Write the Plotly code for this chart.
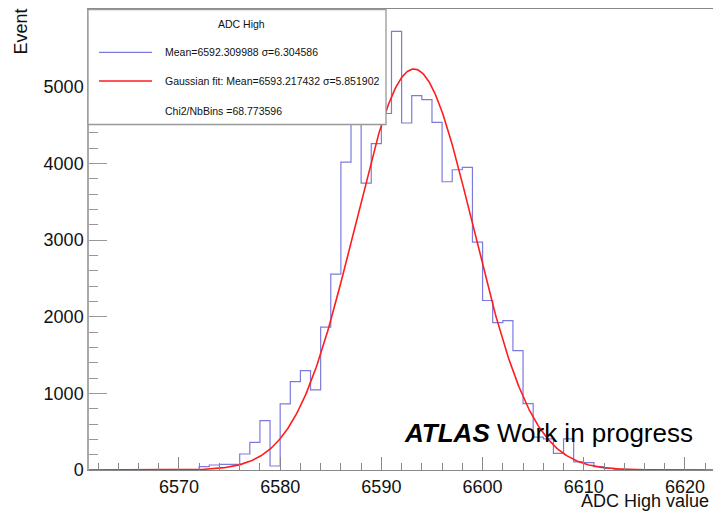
import numpy as np
import plotly.graph_objects as go

# ---- data ----
bin_low_edges = list(range(6561, 6623))  # 1-unit wide bins
counts = [0, 0, 0, 0, 0, 0, 0, 0, 0, 0, 0,          # 6561-6571
          43, 65, 74, 74, 209, 361, 644, 52,         # 6572-6579
          862, 1153, 1296, 1044, 1863, 2555, 4017, 4700, 3743, 4256,  # 6580-6589
          4650, 5720, 4526, 4882, 4830, 4534, 3760, 3916, 3947, 2972,  # 6590-6599
          2211, 1923, 1949, 1558, 865, 430, 405, 218, 405, 105,        # 6600-6609
          96, 43, 22, 9, 0, 0, 0, 0, 0, 0, 0, 0]                       # 6610-6621
fit_mean = 6593.217432
fit_sigma = 5.851902
fit_amplitude = 5230

x_ticks = [6570, 6580, 6590, 6600, 6610, 6620]
y_ticks = [0, 1000, 2000, 3000, 4000, 5000]

legend_title = "ADC High"
legend_hist = "Mean=6592.309988 σ=6.304586"
legend_fit = "Gaussian fit: Mean=6593.217432 σ=5.851902"
legend_chi2 = "Chi2/NbBins =68.773596"

# ---- geometry helpers (pixels -> paper) ----
W, H = 713, 512
ML, MR, MT, MB = 89, 0, 9, 42
PW, PH = W - ML - MR, H - MT - MB


def px(x):
    return (x - ML) / PW


def py(y):
    return (H - MB - y) / PH


FONT = "Liberation Sans, Arial, Helvetica, sans-serif"

# histogram as step line
step_x = bin_low_edges + [bin_low_edges[-1] + 1]
step_y = counts + [counts[-1]]

x_range = [6561.11, 6622.77]
xf = np.linspace(x_range[0], x_range[1], 600)
gauss = fit_amplitude * np.exp(-0.5 * ((xf - fit_mean) / fit_sigma) ** 2)

fig = go.Figure()
fig.add_trace(go.Scatter(
    x=step_x, y=step_y, mode="lines",
    line=dict(shape="hv", color="rgba(90,90,215,0.8)", width=1.2),
    showlegend=False, hoverinfo="skip"))
fig.add_trace(go.Scatter(
    x=xf, y=gauss, mode="lines",
    line=dict(color="#ff1c1c", width=1.6),
    showlegend=False, hoverinfo="skip"))

fig.update_layout(
    width=W, height=H,
    margin=dict(l=ML, r=MR, t=MT, b=MB, pad=0),
    paper_bgcolor="white", plot_bgcolor="white",
    font=dict(family=FONT, color="#111"),
    showlegend=False,
    xaxis=dict(
        range=x_range, tickvals=x_ticks, ticktext=[str(v) for v in x_ticks],
        showgrid=False, zeroline=False,
        showline=True, linecolor="#888", linewidth=1.3, mirror=True,
        ticks="inside", ticklen=13, tickcolor="#888", tickwidth=1,
        tickfont=dict(size=18, family=FONT, color="#111"),
        minor=dict(dtick=2, tick0=6570, ticks="inside", ticklen=7,
                   tickcolor="#888", tickwidth=1, showgrid=False),
    ),
    yaxis=dict(
        range=[0, 6013], tickvals=y_ticks, ticktext=[str(v) for v in y_ticks],
        showgrid=False, zeroline=False,
        showline=True, linecolor="#aaa", linewidth=1.5,
        ticks="inside", ticklen=18, tickcolor="#999", tickwidth=1,
        tickfont=dict(size=18, family=FONT, color="#111"),
        minor=dict(dtick=200, tick0=0, ticks="inside", ticklen=9,
                   tickcolor="#999", tickwidth=1, showgrid=False),
    ),
)

# legend box (ROOT style)
fig.add_shape(type="rect", xref="paper", yref="paper", layer="above",
              x0=px(88), x1=px(386), y0=py(124.5), y1=py(9.5),
              fillcolor="white", line=dict(color="#999", width=1.3))
fig.add_shape(type="line", xref="paper", yref="paper", layer="above",
              x0=px(99), x1=px(152), y0=py(52.3), y1=py(52.3),
              line=dict(color="rgba(90,90,215,0.8)", width=1.2))
fig.add_shape(type="line", xref="paper", yref="paper", layer="above",
              x0=px(99), x1=px(152), y0=py(81), y1=py(81),
              line=dict(color="#ff1c1c", width=1.3))

ann = []
ann.append(dict(text=legend_title, x=px(241), y=py(23.5), xanchor="center", yanchor="middle",
                font=dict(size=10.5, family=FONT, color="#111")))
ann.append(dict(text=legend_hist, x=px(163), y=py(52.5), xanchor="left", yanchor="middle",
                font=dict(size=10.5, family=FONT, color="#111")))
ann.append(dict(text=legend_fit, x=px(163), y=py(81.5), xanchor="left", yanchor="middle",
                font=dict(size=10.5, family=FONT, color="#111")))
ann.append(dict(text=legend_chi2, x=px(163), y=py(111), xanchor="left", yanchor="middle",
                font=dict(size=10.5, family=FONT, color="#111")))
# axis titles
ann.append(dict(text="Event", x=px(20.5), y=py(32), xanchor="center", yanchor="middle",
                textangle=-90, font=dict(size=18, family=FONT, color="#111")))
ann.append(dict(text="ADC High value", x=px(711), y=py(501.5), xanchor="right", yanchor="middle",
                font=dict(size=18, family=FONT, color="#111")))
# ATLAS label
ann.append(dict(text="<b><i>ATLAS</i></b> Work in progress", x=px(402), y=py(433),
                xanchor="left", yanchor="middle",
                font=dict(size=26, family=FONT, color="#000")))
for a in ann:
    a.update(xref="paper", yref="paper", showarrow=False)
fig.update_layout(annotations=ann)

fig.write_html("out.html")
